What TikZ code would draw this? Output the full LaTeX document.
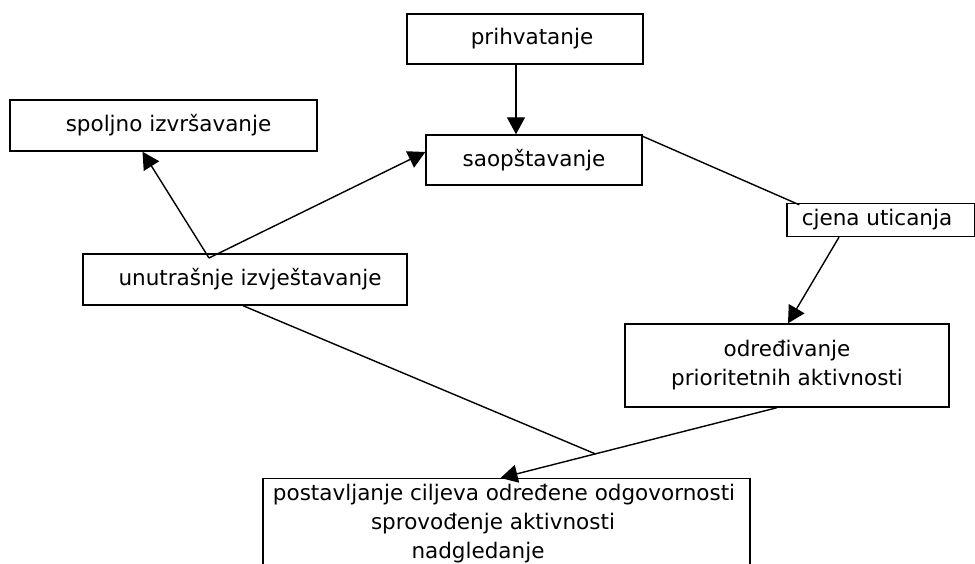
\documentclass[tikz,border=0pt]{standalone}
\usepackage{fontspec}
\setmainfont{DejaVu Sans}
\usetikzlibrary{arrows.meta,calc}
\begin{document}
\begin{tikzpicture}[x=1pt,y=-1pt,
  font=\fontsize{21.5}{29}\selectfont,
  box/.style={draw,line width=1.4pt,rectangle,inner sep=0pt},
  link/.style={line width=1.4pt},
  arr/.style={link,-{Triangle[length=17pt,width=18pt]}}]
\useasboundingbox (0,0) rectangle (975,564);
\clip (0,0) rectangle (975,564);

% boxes
\node[box,minimum width=236pt,minimum height=50pt] (prih) at (525,39) {\hspace*{14pt}prihvatanje};
\node[box,minimum width=216pt,minimum height=50pt] (saop) at (534,160) {saopštavanje};
\node[box,minimum width=307pt,minimum height=51pt] (spol) at (163.5,125.5) {\hspace*{10pt}spoljno izvršavanje};
\node[box,minimum width=324pt,minimum height=51pt] (unut) at (245,279.5) {\hspace*{10pt}unutrašnje izvještavanje};
\node[box,minimum width=188pt,minimum height=33pt] (cjen) at (881,220) {cjena uticanja\hspace*{8pt}};
\node[box,minimum width=324pt,minimum height=83pt,align=center] (odre) at (787,365.5)
  {određivanje\\prioritetnih aktivnosti};

% bottom box, open below the page edge
\node[box,minimum width=487pt,minimum height=130pt,anchor=north] (post) at (506.5,478) {};
\node[anchor=base] (pl1) at (504,500) {postavljanje ciljeva određene odgovornosti};
\node[anchor=base] (pl2) at (493,529) {sprovođenje aktivnosti};
\node[anchor=base] (pl3) at (478,558) {nadgledanje};

% connectors
\draw[arr] ([xshift=-9pt]prih.south) -- ([xshift=-18pt]saop.north);
\coordinate (fork) at (209,258);
\draw[arr] (fork) -- ([xshift=-21pt]spol.south);
\draw[arr] (fork) -- ([yshift=8pt]saop.west);
\draw[link] ([yshift=-2pt]saop.north east) -- ([xshift=13pt,yshift=-2pt]cjen.north west);
\draw[arr] ([xshift=-42pt]cjen.south) -- ([xshift=1pt]odre.north);
\coordinate (dstart) at ([xshift=-10pt]odre.south);
\coordinate (dend) at ([xshift=-6pt]post.north);
\draw[arr] (dstart) -- (dend);
\coordinate (meet) at ($(dstart)!0.657!(dend)$);
\draw[link] ([xshift=-2pt]unut.south) -- (meet);
\end{tikzpicture}
\end{document}
